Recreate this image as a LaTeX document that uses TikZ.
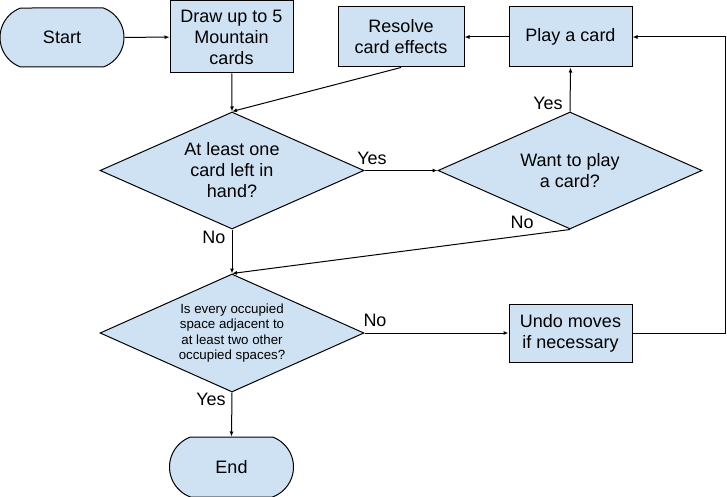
\documentclass[tikz,border=0pt]{standalone}
\usepackage{fontspec}
\setmainfont{Liberation Sans}
\usetikzlibrary{shapes.geometric,shapes.misc,arrows.meta}
\definecolor{boxfill}{HTML}{CFE2F3}
\begin{document}
\begin{tikzpicture}[x=1pt,y=1pt,line width=1pt,
		every node/.style={font=\fontsize{18}{21}\selectfont},
		terminal/.style={draw,fill=boxfill,rounded rectangle,rounded rectangle arc length=140,minimum width=124pt,minimum height=59pt,inner sep=0pt},
		stepbox/.style={draw,fill=boxfill,rectangle,align=center,inner sep=0pt},
		decision/.style={draw,fill=boxfill,diamond,aspect=2.26,align=center,inner sep=0pt,minimum width=264pt,minimum height=117pt},
		flow/.style={-{Latex[length=5pt,width=4pt]}}]
		\useasboundingbox (0,0) rectangle (727,-497);
		% start and the top row
		\node[terminal] (start) at (62,-37.5) {Start};
		\node[stepbox,minimum width=123pt,minimum height=72pt] (draw) at (231.5,-37) {Draw up to 5\\Mountain\\cards};
		\node[stepbox,minimum width=126pt,minimum height=60pt] (resolve) at (401,-37) {Resolve\\card effects};
		\node[stepbox,minimum width=123pt,minimum height=60pt] (play) at (570.5,-37) {Play a card};
		% the decisions
		\node[decision] (hand) at (232,-170.5) {At least one\\card left in\\hand?};
		\node[decision] (want) at (570,-170.5) {Want to play\\a card?};
		\node[decision,minimum height=118pt,font=\fontsize{13.3}{15.6}\selectfont] (check) at (232,-333) {Is every occupied\\space adjacent to\\at least two other\\occupied spaces?};
		\node[stepbox,minimum width=123pt,minimum height=58pt] (undo) at (570.5,-333) {Undo moves\\if necessary};
		\node[terminal,minimum height=60pt] (finish) at (231.5,-467) {End};
		% the arrows
		\draw[flow] (start) -- (draw);
		\draw[flow] (draw) -- (hand.north);
		\draw[flow] (resolve.south) -- (hand.north);
		\draw[flow] (play) -- (resolve);
		\draw[flow] (hand.east) -- (want.west);
		\draw[flow] (want.north) -- (play.south);
		\draw[flow] (want.south) -- (check.north);
		\draw[flow] (hand.south) -- (check.north);
		\draw[flow] (check.east) -- (undo.west);
		\coordinate (loop) at (725.5,-333);
		\draw[flow] (undo.east) -- (loop) |- (play.east);
		\draw[flow] (check.south) -- (finish.north);
		% the answers
		\node (yes1) at (372,-158) {Yes};
		\node (yes2) at (548,-103) {Yes};
		\node (no1) at (522,-222) {No};
		\node (no2) at (214,-237) {No};
		\node (no3) at (375,-320) {No};
		\node (yes3) at (211,-399) {Yes};
	\end{tikzpicture}
\end{document}
